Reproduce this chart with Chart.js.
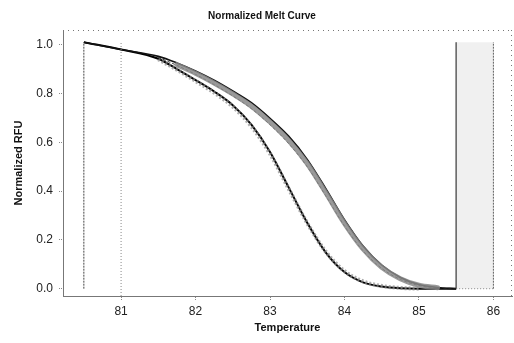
<!DOCTYPE html>
<html>
<head>
<meta charset="utf-8">
<script src="https://cdn.jsdelivr.net/npm/chart.js@4.4.1/dist/chart.umd.min.js"></script>
<style>
    html, body { margin: 0; padding: 0; background: #fff; }
    #wrap { width: 514px; height: 343px; }
</style>
</head>
<body>
<div id="wrap"><canvas id="melt-chart" width="514" height="343"></canvas></div>
<script>
    // Data
    var temps = [80.5, 81, 81.5, 81.75, 82, 82.25, 82.5, 82.75, 83, 83.25, 83.5, 83.75, 84, 84.25, 84.5, 84.75, 85, 85.25, 85.5];
    var meltLeft = [1.01, 0.98, 0.942, 0.9, 0.855, 0.808, 0.752, 0.672, 0.56, 0.415, 0.27, 0.148, 0.068, 0.026, 0.009, 0.002, 0.0, 0.0, 0.0];
    var meltLeftB = [null, null, 0.94, 0.897, 0.851, 0.803, 0.746, 0.665, 0.553, 0.41, 0.269, 0.151, 0.072, 0.03, 0.011, 0.003, 0.0, null, null];
    var meltRight = [null, null, null, 0.918, 0.883, 0.843, 0.798, 0.748, 0.683, 0.608, 0.513, 0.393, 0.268, 0.163, 0.088, 0.041, 0.014, 0.004, null];
    var meltRightHi = [1.01, 0.98, 0.952, 0.925, 0.892, 0.854, 0.81, 0.762, 0.698, 0.625, 0.53, 0.41, 0.283, 0.175, 0.097, 0.046, 0.017, 0.005, 0.0];
    var meltRightLo = [null, null, 0.948, 0.915, 0.878, 0.836, 0.79, 0.738, 0.672, 0.595, 0.5, 0.38, 0.257, 0.155, 0.083, 0.038, 0.013, 0.003, 0.0];
    var xTicks = [81, 82, 83, 84, 85, 86];
    var yTicks = [0, 0.2, 0.4, 0.6, 0.8, 1.0];
    var leftMarks = [80.5, 81];
    var rightMarks = [85.5, 86];
    var markTop = 1.01;

    function pts(ys) {
        return temps.map(function (t, i) { return {x: t, y: ys[i]}; });
    }
    function vline(t, bottom) {
        return [{x: t, y: bottom}, {x: t, y: markTop}];
    }

    // dotted frame on top and right
    var framePlugin = {
        id: 'frame',
        beforeDatasetsDraw: function (chart) {
            var a = chart.chartArea, c = chart.ctx;
            c.save();
            c.strokeStyle = '#777';
            c.lineWidth = 1;
            c.setLineDash([1, 4]);
            c.beginPath();
            c.moveTo(a.left, a.top + 0.5);
            c.lineTo(a.right, a.top + 0.5);
            c.moveTo(a.right - 0.5, a.top);
            c.lineTo(a.right - 0.5, a.bottom);
            c.stroke();
            c.restore();
        }
    };

    var font = "'Liberation Sans', Arial, sans-serif";

    // Melt Chart
    var ctx = document.getElementById('melt-chart').getContext('2d');
    var myChart = new Chart(ctx, {
        type: 'line',
        data: {
            datasets: [{
                // shaded end region
                data: [{x: rightMarks[0], y: markTop}, {x: rightMarks[1], y: markTop}],
                borderWidth: 0,
                backgroundColor: 'rgba(200, 200, 200, 0.28)',
                fill: 'origin'
            }, {
                data: [{x: rightMarks[0], y: 0}, {x: rightMarks[1], y: 0}],
                borderColor: '#777',
                borderWidth: 1,
                borderDash: [1, 2]
            }, {
                data: vline(leftMarks[0], 0),
                borderColor: '#444',
                borderWidth: 1,
                borderDash: [2, 1]
            }, {
                data: vline(leftMarks[1], -0.03),
                borderColor: '#888',
                borderWidth: 1,
                borderDash: [1, 2]
            }, {
                data: vline(rightMarks[0], 0),
                borderColor: '#222',
                borderWidth: 1.2
            }, {
                data: vline(rightMarks[1], 0),
                borderColor: '#555',
                borderWidth: 1,
                borderDash: [2, 1]
            }, {
                data: pts(meltRight),
                borderColor: 'rgba(135, 135, 135, 0.85)',
                borderWidth: 5,
                borderCapStyle: 'round',
                cubicInterpolationMode: 'monotone'
            }, {
                data: pts(meltRightLo),
                borderColor: 'rgba(30, 30, 30, 0.85)',
                borderWidth: 1,
                borderDash: [3, 2],
                cubicInterpolationMode: 'monotone'
            }, {
                data: pts(meltRightHi),
                borderColor: '#111',
                borderWidth: 1.6,
                cubicInterpolationMode: 'monotone'
            }, {
                data: pts(meltLeftB),
                borderColor: 'rgba(140, 140, 140, 0.7)',
                borderWidth: 4,
                borderDash: [2, 2],
                cubicInterpolationMode: 'monotone'
            }, {
                data: pts(meltLeft),
                borderColor: '#000',
                borderWidth: 2,
                cubicInterpolationMode: 'monotone'
            }]
        },
        options: {
            responsive: false,
            animation: false,
            layout: { padding: { left: 12, right: 2, top: 0, bottom: 8 } },
            elements: { point: { radius: 0 }, line: { fill: false } },
            plugins: {
                legend: { display: false },
                tooltip: { enabled: false },
                title: {
                    display: true,
                    text: 'Normalized Melt Curve',
                    color: '#111',
                    font: { family: font, size: 10, weight: 'bold' },
                    padding: { top: 10, bottom: 8 }
                }
            },
            scales: {
                x: {
                    type: 'linear',
                    min: 80.22,
                    max: 86.25,
                    afterBuildTicks: function (scale) {
                        scale.ticks = xTicks.map(function (v) { return {value: v}; });
                    },
                    afterFit: function (scale) { scale.height = 39; },
                    ticks: {
                        color: '#222',
                        padding: 4,
                        font: { family: font, size: 12 },
                        maxRotation: 0,
                        callback: function (v) { return v; }
                    },
                    grid: { drawOnChartArea: false, tickLength: 4, color: '#888', tickBorderDash: [1, 1] },
                    border: { display: true, color: '#777', dash: [1, 4] },
                    title: {
                        display: true,
                        text: 'Temperature',
                        color: '#111',
                        font: { family: font, size: 11, weight: 'bold' },
                        padding: { top: 0, bottom: 0 }
                    }
                },
                y: {
                    type: 'linear',
                    min: -0.03,
                    max: 1.06,
                    afterBuildTicks: function (scale) {
                        scale.ticks = yTicks.map(function (v) { return {value: v}; });
                    },
                    afterFit: function (scale) { scale.width = 51; },
                    ticks: {
                        color: '#222',
                        padding: 6,
                        font: { family: font, size: 12 },
                        callback: function (v) { return v.toFixed(1); }
                    },
                    grid: { drawOnChartArea: false, tickLength: 4, color: '#888', tickBorderDash: [1, 1] },
                    border: { display: true, color: '#777', dash: [1, 4] },
                    title: {
                        display: true,
                        text: 'Normalized RFU',
                        color: '#111',
                        font: { family: font, size: 11, weight: 'bold' },
                        padding: { top: 0, bottom: 4 }
                    }
                }
            }
        },
        plugins: [framePlugin]
    });
</script>
</body>
</html>
